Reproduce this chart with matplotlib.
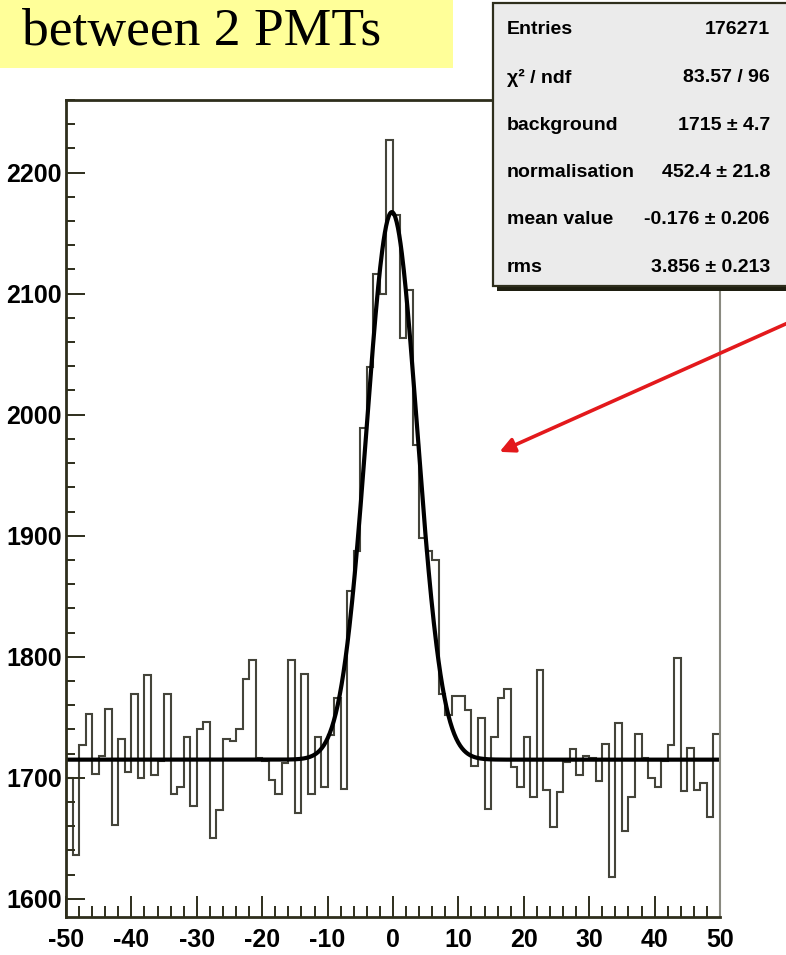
import numpy as np
import matplotlib
matplotlib.use("Agg")
import matplotlib.pyplot as plt
from matplotlib import font_manager
from matplotlib.patches import Rectangle, FancyArrowPatch
from matplotlib.ticker import MultipleLocator

W, H = 786, 955

# time difference histogram, 1 unit bins from -50 to 50
bin_edges = np.arange(-50, 51)
counts = [
    1700, 1636, 1727, 1753, 1703, 1718, 1757, 1661, 1732, 1705,
    1769, 1700, 1785, 1702, 1714, 1769, 1687, 1692, 1734, 1677,
    1740, 1746, 1650, 1673, 1732, 1730, 1740, 1782, 1797, 1716,
    1714, 1698, 1687, 1712, 1797, 1671, 1786, 1687, 1734, 1692,
    1735, 1766, 1691, 1854, 1887, 1989, 2039, 2116, 2100, 2227,
    2165, 2063, 2103, 1975, 1898, 1887, 1880, 1769, 1752, 1768,
    1768, 1756, 1710, 1749, 1674, 1734, 1766, 1773, 1709, 1692,
    1734, 1684, 1789, 1690, 1659, 1688, 1713, 1724, 1702, 1718,
    1716, 1697, 1728, 1618, 1745, 1656, 1684, 1736, 1716, 1700,
    1692, 1714, 1727, 1799, 1689, 1725, 1690, 1696, 1668, 1736,
]

# gaussian + flat background fit
entries = 176271
chi2, ndf = 83.57, 96
background, background_err = 1715, 4.7
normalisation, normalisation_err = 452.4, 21.8
mean_value, mean_err = -0.176, 0.206
rms, rms_err = 3.856, 0.213

stat_labels = ["Entries", "χ² / ndf", "background", "normalisation", "mean value", "rms"]
stat_values = [
    f"{entries}",
    f"{chi2:.2f} / {ndf}",
    f"{background} ± {background_err}",
    f"{normalisation} ± {normalisation_err}",
    f"{mean_value} ± {mean_err}",
    f"{rms} ± {rms_err}",
]

names = {f.name for f in font_manager.fontManager.ttflist}
narrow = "Liberation Sans Narrow" in names
plt.rcParams["font.family"] = ["Liberation Sans Narrow", "Liberation Sans", "DejaVu Sans"]
plt.rcParams["font.weight"] = "bold"
plt.rcParams["axes.unicode_minus"] = False

FRAME = "#2e2e1c"
HIST = "#44443a"


def fx(x):
    return x / W


def fy(y):
    return 1 - y / H


fig = plt.figure(figsize=(W / 100, H / 100), dpi=100)
fig.patch.set_facecolor("white")

ax = fig.add_axes([fx(66), fy(917), (720 - 66) / W, (917 - 100) / H])
ax.stairs(counts, bin_edges, baseline=None, color=HIST, lw=1.5)

xs = np.linspace(-50, 50, 1000)
fit = background + normalisation * np.exp(-0.5 * ((xs - mean_value) / rms) ** 2)
ax.plot(xs, fit, color="black", lw=3.0, solid_capstyle="round")

ax.set_xlim(-50, 50)
ax.set_ylim(1585, 2260)
ax.xaxis.set_major_locator(MultipleLocator(10))
ax.xaxis.set_minor_locator(MultipleLocator(2))
ax.yaxis.set_major_locator(MultipleLocator(100))
ax.yaxis.set_minor_locator(MultipleLocator(20))
lsize = 21 if narrow else 18
ax.tick_params(which="both", direction="in", colors=FRAME, width=1.4,
               labelsize=lsize, labelcolor="black")
ax.tick_params(axis="x", which="major", length=15, pad=8)
ax.tick_params(axis="x", which="minor", length=8)
ax.tick_params(axis="y", which="major", length=13.5, pad=3)
ax.tick_params(axis="y", which="minor", length=6.5)
for side in ["left", "bottom", "top"]:
    ax.spines[side].set_color(FRAME)
    ax.spines[side].set_linewidth(2.0)
ax.spines["right"].set_color("#8a8a80")
ax.spines["right"].set_linewidth(1.5)

# title banner
fig.add_artist(Rectangle((0, fy(68)), fx(453), 68 / H, transform=fig.transFigure,
                         facecolor="#ffff99", edgecolor="none", zorder=4))
fig.text(fx(22), fy(45), "between 2 PMTs", family=["Liberation Serif", "DejaVu Serif"],
         weight="normal", fontsize=38.5, va="baseline", ha="left", zorder=5)

# stats box with shadow
fig.add_artist(Rectangle((fx(497), fy(291)), fx(W - 497 + 5), (291 - 7) / H,
                         transform=fig.transFigure, facecolor="#1e1e10",
                         edgecolor="none", zorder=5))
fig.add_artist(Rectangle((fx(493), fy(286)), fx(W - 493 + 5), (286 - 3) / H,
                         transform=fig.transFigure, facecolor="#ebebeb",
                         edgecolor=FRAME, lw=1.6, zorder=6))
ssize = 16 if narrow else 14
for i, (lab, val) in enumerate(zip(stat_labels, stat_values)):
    yy = fy(30 + 47.5 * i)
    fig.text(fx(507), yy, lab, fontsize=ssize, va="center", ha="left", zorder=7)
    fig.text(fx(770), yy, val, fontsize=ssize, va="center", ha="right", zorder=7)

# red pointer
fig.add_artist(FancyArrowPatch((fx(790), fy(322)), (fx(497), fy(453)),
                               transform=fig.transFigure, arrowstyle="-|>",
                               mutation_scale=22, color="#e3191c", lw=2.6, zorder=8))

fig.savefig("out.png", dpi=100)
